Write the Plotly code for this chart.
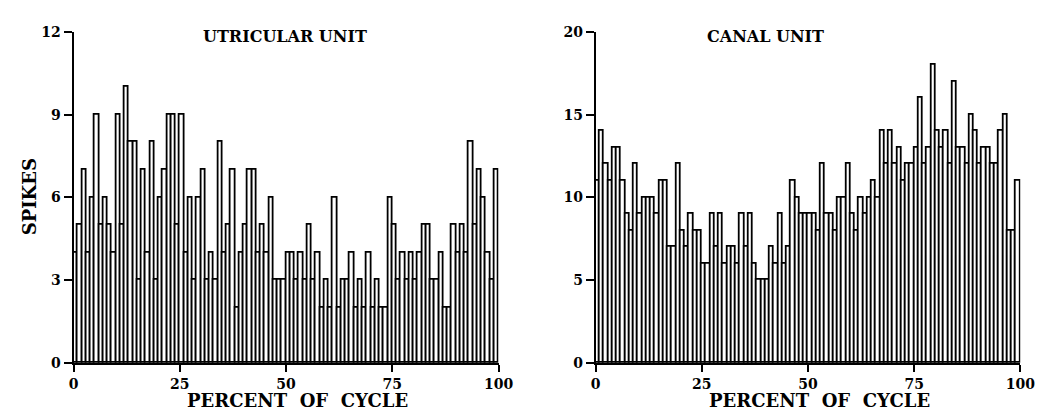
import plotly.graph_objects as go

# 1% bins of the cycle (bin left edges, percent)
percent_bins = list(range(0, 100))

utricular_spikes = [
    4, 5, 7, 4, 6, 9, 5, 6, 5, 4,
    9, 5, 10, 8, 8, 3, 7, 4, 8, 3,
    6, 7, 9, 9, 5, 9, 4, 6, 3, 6,
    7, 3, 4, 3, 8, 4, 5, 7, 2, 4,
    5, 7, 7, 4, 5, 4, 6, 3, 3, 3,
    4, 4, 3, 4, 3, 5, 3, 4, 2, 3,
    2, 6, 2, 3, 3, 4, 2, 3, 2, 4,
    2, 3, 2, 2, 6, 5, 3, 4, 3, 4,
    3, 4, 5, 5, 3, 3, 4, 2, 2, 5,
    4, 5, 4, 8, 5, 7, 6, 4, 3, 7,
]

canal_spikes = [
    11, 14, 12, 11, 13, 13, 11, 9, 8, 12,
    9, 10, 10, 10, 9, 11, 11, 7, 7, 12,
    8, 7, 9, 8, 8, 6, 6, 9, 7, 9,
    6, 7, 7, 6, 9, 7, 9, 6, 5, 5,
    5, 7, 6, 9, 6, 7, 11, 10, 9, 9,
    9, 9, 8, 12, 9, 9, 8, 10, 10, 12,
    9, 8, 10, 9, 10, 11, 10, 14, 12, 14,
    12, 13, 11, 12, 12, 13, 16, 12, 13, 18,
    14, 13, 14, 12, 17, 13, 13, 12, 15, 14,
    12, 13, 13, 12, 12, 14, 15, 8, 8, 11,
]

x_ticks = [0, 25, 50, 75, 100]
left_y_ticks = [0, 3, 6, 9, 12]
right_y_ticks = [0, 5, 10, 15, 20]

panel_titles = ["UTRICULAR UNIT", "CANAL UNIT"]
x_title = "PERCENT\u00a0\u00a0OF\u00a0\u00a0CYCLE"
y_title = "SPIKES"

FONT = "DejaVu Serif"
INK = "#000000"
tick_font = dict(family=FONT, size=14, color=INK, weight="bold")
title_font = dict(family=FONT, size=16, color=INK, weight="bold")
axis_title_font = dict(family=FONT, size=18, color=INK, weight="bold")

bar_centers = [b + 0.5 for b in percent_bins]

fig = go.Figure()
bar_style = dict(marker=dict(color="white", line=dict(color=INK, width=1.8)),
                 width=1.0, showlegend=False, hoverinfo="skip")
fig.add_trace(go.Bar(x=bar_centers, y=utricular_spikes, xaxis="x", yaxis="y", **bar_style))
fig.add_trace(go.Bar(x=bar_centers, y=canal_spikes, xaxis="x2", yaxis="y2", **bar_style))

W, H = 1045, 412
ybot, ytop = 361.0, 16.5
yd = [(H - ybot) / H, (H - ytop) / H]

def xaxis(domain, anchor):
    return dict(domain=domain, range=[0, 100], anchor=anchor,
                tickvals=x_ticks, ticktext=[str(t) for t in x_ticks],
                ticks="outside", ticklen=7, tickwidth=1.6, tickcolor=INK,
                showline=True, linecolor=INK, linewidth=1.8,
                showgrid=False, zeroline=False, tickfont=tick_font,
                fixedrange=True)

def yaxis(domain, anchor, rng, tv):
    return dict(domain=domain, range=rng, anchor=anchor,
                tickvals=tv, ticktext=[str(t) for t in tv],
                ticks="outside", ticklen=8, tickwidth=1.6, tickcolor=INK,
                showline=True, linecolor=INK, linewidth=1.8,
                showgrid=False, zeroline=False, tickfont=tick_font,
                fixedrange=True)

fig.update_layout(
    width=W, height=H, autosize=False,
    margin=dict(l=0, r=0, t=0, b=0),
    paper_bgcolor="white", plot_bgcolor="white",
    bargap=0, barmode="overlay",
    xaxis=xaxis([61.7 / W, 495.0 / W], "y"),
    yaxis=yaxis(yd, "x", [0, 12], left_y_ticks),
    xaxis2=xaxis([594.0 / W, 1027.0 / W], "y2"),
    yaxis2=yaxis(yd, "x2", [0, 20], right_y_ticks),
)

def ann(text, px, py, font, angle=0):
    fig.add_annotation(text=text, x=px / W, y=(H - py) / H, xref="paper", yref="paper",
                       showarrow=False, xanchor="center", yanchor="middle",
                       textangle=angle, font=font)

ann(panel_titles[0], 277.5, 21, title_font)
ann(panel_titles[1], 767, 21, title_font)
ann(x_title, 290, 400, axis_title_font)
ann(x_title, 822, 400, axis_title_font)
ann(y_title, 17, 188, axis_title_font, angle=-90)

fig.write_html("out.html")
